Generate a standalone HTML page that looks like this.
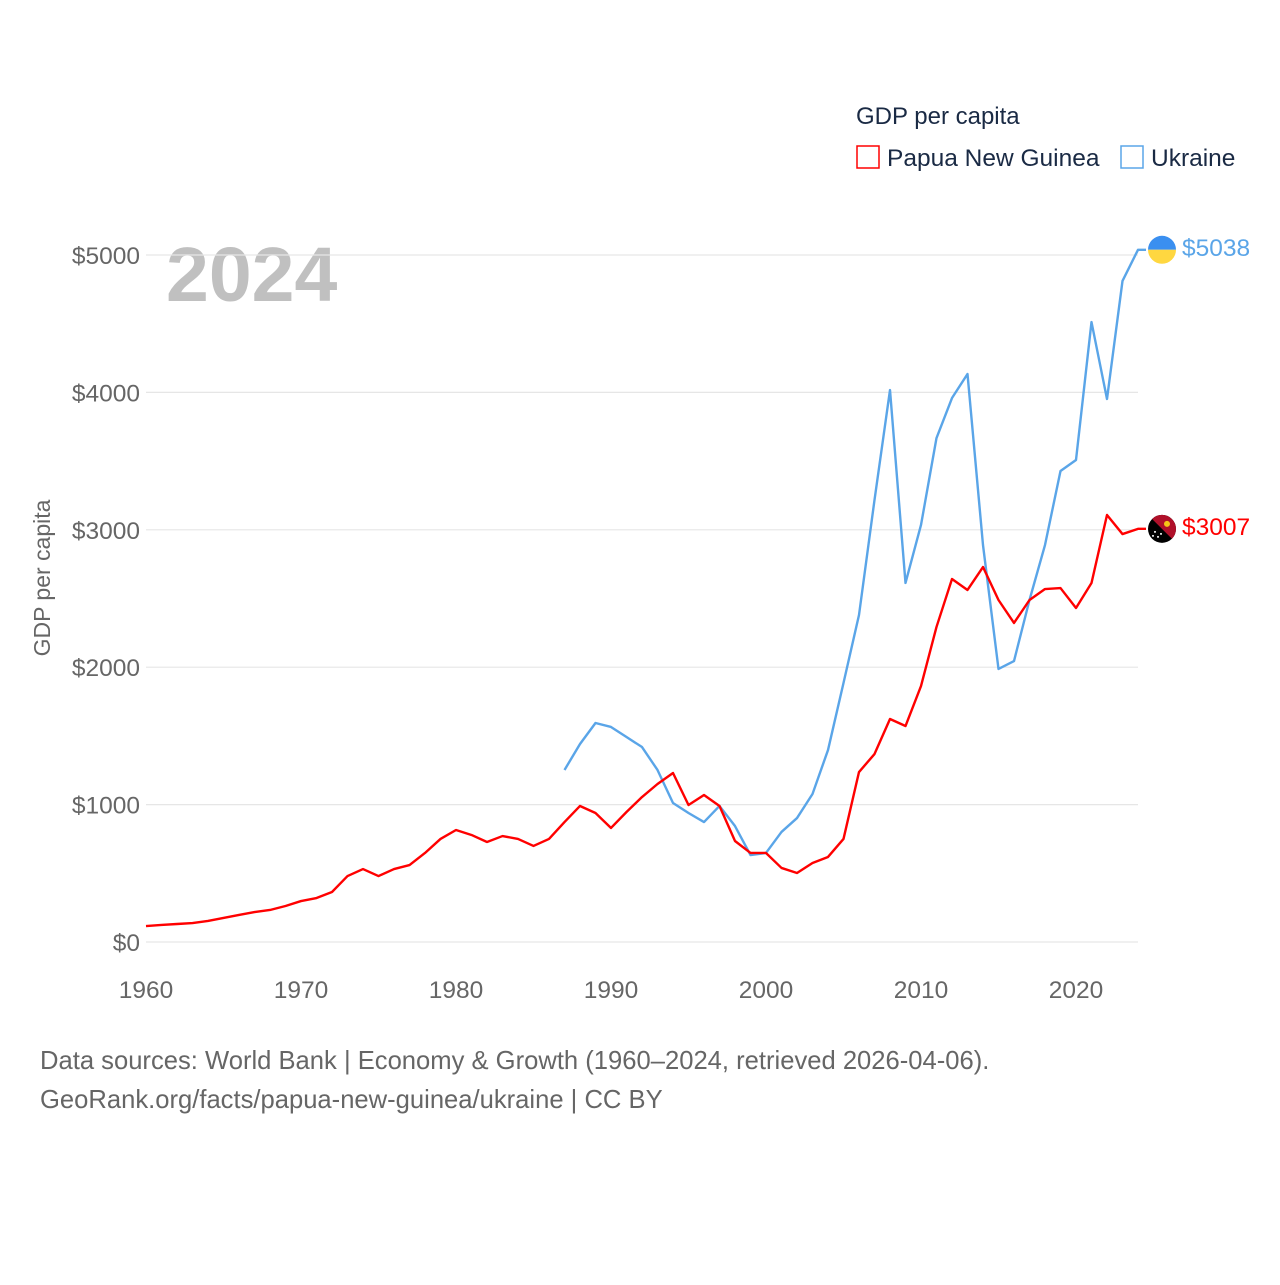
<!DOCTYPE html>
<html><head><meta charset="utf-8"><style>
body{margin:0;background:#fff;}
svg text{font-family:"Liberation Sans",sans-serif;}
</style></head><body>
<svg id="c" width="1280" height="1280" viewBox="0 0 1280 1280">
<text x="856" y="124" font-size="24" fill="#1a2a44">GDP per capita</text>
<rect x="857" y="146" width="22" height="22" fill="none" stroke="#ff0000" stroke-width="1.5"/>
<text x="887" y="166" font-size="24.5" fill="#1a2a44">Papua New Guinea</text>
<rect x="1121" y="146" width="22" height="22" fill="none" stroke="#5aa5e8" stroke-width="1.5"/>
<text x="1151" y="166" font-size="24.5" fill="#1a2a44">Ukraine</text>
<text x="166" y="301" font-size="77" font-weight="bold" fill="#c0c0c0">2024</text>
<text transform="translate(50,578) rotate(-90)" text-anchor="middle" font-size="23" fill="#666">GDP per capita</text>
<g id="grid"></g><g id="lines"></g>
<text x="40" y="1069" font-size="25.6" fill="#666">Data sources: World Bank | Economy &amp; Growth (1960–2024, retrieved 2026-04-06).</text>
<text x="40" y="1108" font-size="25.6" fill="#666">GeoRank.org/facts/papua-new-guinea/ukraine | CC BY</text>
</svg>
<script>
const yTicks=[0,1000,2000,3000,4000,5000];
const xTicks=[1960,1970,1980,1990,2000,2010,2020];
const pngStart=1960;
const pngValues=[116,124,131,138,153,175,197,218,233,262,298,320,364,480,531,480,531,560,648,750,815,779,728,771,750,699,750,873,990,939,830,946,1055,1150,1230,997,1070,990,735,648,648,539,502,575,619,750,1237,1368,1623,1572,1863,2293,2642,2562,2729,2489,2322,2489,2569,2576,2431,2613,3108,2969,3007];
const ukrStart=1987;
const ukrValues=[1252,1441,1594,1565,1492,1419,1252,1012,939,873,990,844,633,648,801,902,1077,1397,1885,2380,3217,4017,2613,3035,3668,3959,4134,2889,1987,2045,2489,2889,3428,3508,4512,3952,4811,5038];
const NS='http://www.w3.org/2000/svg';
const X=y=>146+(y-1960)*15.5;
const Y=v=>942-v*0.1374;
const grid=document.getElementById('grid'),lines=document.getElementById('lines');
function mk(t,a,p){const e=document.createElementNS(NS,t);for(const k in a)e.setAttribute(k,a[k]);p.appendChild(e);return e;}
yTicks.forEach(v=>{
 const l=mk('line',{x1:146,x2:1138,y1:Y(v),y2:Y(v),stroke:'#e6e6e6','stroke-width':1.2},grid);
 
 
 const t=mk('text',{x:140,y:Y(v)+9,'text-anchor':'end','font-size':24.5,fill:'#666'},grid);
 t.textContent='$'+v;
 
 
});
xTicks.forEach(y=>{
 const t=mk('text',{x:X(y),y:998,'text-anchor':'middle','font-size':24.5,fill:'#666'},grid);
 t.textContent=y;
 
 
});
function series(start,vals,color,name){
 const pts=vals.map((v,i)=>X(start+i)+','+Y(v)).join(' ');
 const lv=vals[vals.length-1],ly=Y(lv);
 const p=mk('polyline',{points:pts+' '+(X(start+vals.length-1)+8)+','+ly,fill:'none',stroke:color,'stroke-width':2.4,'stroke-linejoin':'round'},lines);
 
 
 const t=mk('text',{x:1182,y:ly+6,'font-size':24.5,fill:color},lines);
 t.textContent='$'+lv;
 
 
 return ly;
}
const uy=series(ukrStart,ukrValues,'#5aa5e8','ukraine');
const py=series(pngStart,pngValues,'#ff0000','png');
const f1=mk('g',{},lines);


mk('path',{d:`M1148,${uy} a14,14 0 0 1 28,0 z`,fill:'#3a8ff0'},f1);
mk('path',{d:`M1148,${uy} a14,14 0 0 0 28,0 z`,fill:'#ffd740'},f1);
const f2=mk('g',{},lines);


mk('circle',{cx:1162,cy:py,r:14,fill:'#000'},f2);
mk('path',{d:`M${1162-9.9},${py-9.9} A14,14 0 0 1 ${1162+9.9},${py+9.9} z`,fill:'#b0102a'},f2);
mk('circle',{cx:1167,cy:py-5,r:3,fill:'#f5c518'},f2);
[[1155,py+3],[1158,py+8],[1153,py+7],[1161,py+5]].forEach(([x,y])=>mk('circle',{cx:x,cy:y,r:1,fill:'#fff'},f2));
</script>
</body></html>
